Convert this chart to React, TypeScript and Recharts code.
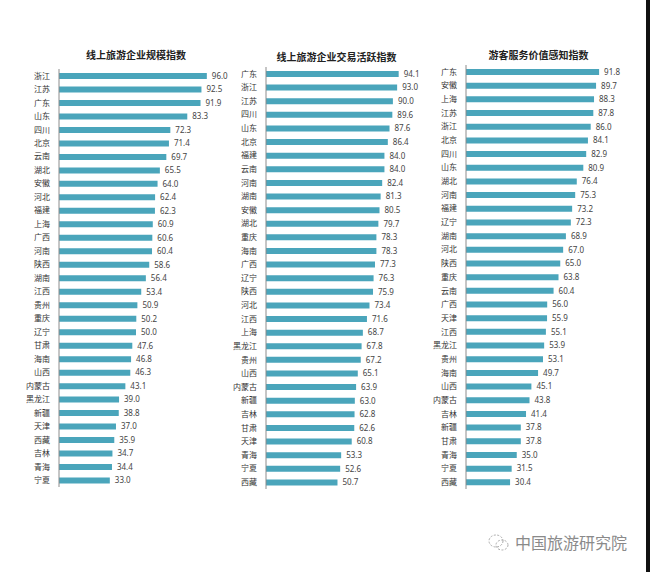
import React from "react";
import { Bar, BarChart, LabelList, XAxis, YAxis } from "recharts";

// 线上旅游企业规模指数
const scaleRegions = [
  "浙江", "江苏", "广东", "山东", "四川", "北京", "云南", "湖北", "安徽", "河北",
  "福建", "上海", "广西", "河南", "陕西", "湖南", "江西", "贵州", "重庆", "辽宁",
  "甘肃", "海南", "山西", "内蒙古", "黑龙江", "新疆", "天津", "西藏", "吉林", "青海", "宁夏",
];
const scaleValues = [
  96.0, 92.5, 91.9, 83.3, 72.3, 71.4, 69.7, 65.5, 64.0, 62.4,
  62.3, 60.9, 60.6, 60.4, 58.6, 56.4, 53.4, 50.9, 50.2, 50.0,
  47.6, 46.8, 46.3, 43.1, 39.0, 38.8, 37.0, 35.9, 34.7, 34.4, 33.0,
];

// 线上旅游企业交易活跃指数
const tradeRegions = [
  "广东", "浙江", "江苏", "四川", "山东", "北京", "福建", "云南", "河南", "湖南",
  "安徽", "湖北", "重庆", "海南", "广西", "辽宁", "陕西", "河北", "江西", "上海",
  "黑龙江", "贵州", "山西", "内蒙古", "新疆", "吉林", "甘肃", "天津", "青海", "宁夏", "西藏",
];
const tradeValues = [
  94.1, 93.0, 90.0, 89.6, 87.6, 86.4, 84.0, 84.0, 82.4, 81.3,
  80.5, 79.7, 78.3, 78.3, 77.3, 76.3, 75.9, 73.4, 71.6, 68.7,
  67.8, 67.2, 65.1, 63.9, 63.0, 62.8, 62.6, 60.8, 53.3, 52.6, 50.7,
];

// 游客服务价值感知指数
const serviceRegions = [
  "广东", "安徽", "上海", "江苏", "浙江", "北京", "四川", "山东", "湖北", "河南",
  "福建", "辽宁", "湖南", "河北", "陕西", "重庆", "云南", "广西", "天津", "江西",
  "黑龙江", "贵州", "海南", "山西", "内蒙古", "吉林", "新疆", "甘肃", "青海", "宁夏", "西藏",
];
const serviceValues = [
  91.8, 89.7, 88.3, 87.8, 86.0, 84.1, 82.9, 80.9, 76.4, 75.3,
  73.2, 72.3, 68.9, 67.0, 65.0, 63.8, 60.4, 56.0, 55.9, 55.1,
  53.9, 53.1, 49.7, 45.1, 43.8, 41.4, 37.8, 37.8, 35.0, 31.5, 30.4,
];

const BAR_COLOR = "#4aa5bb";
const CJK = '"Noto Sans CJK SC", "Noto Sans", sans-serif';

interface PanelProps {
  title: string;
  names: string[];
  values: number[];
  left: number;
  axisWidth: number;
  plotWidth: number;
  plotTop: number;
  plotBottom: number;
  titleTop: number;
}

function Panel({ title, names, values, left, axisWidth, plotWidth, plotTop, plotBottom, titleTop }: PanelProps) {
  const data = names.map((name, i) => ({ name, value: values[i] }));
  const width = axisWidth + plotWidth + 40;
  return (
    <>
      <div
        style={{
          position: "absolute",
          left: left + axisWidth + plotWidth / 2 - 100,
          top: titleTop,
          width: 200,
          textAlign: "center",
          fontFamily: CJK,
          fontSize: 10,
          fontWeight: 700,
          color: "#222",
          lineHeight: "12px",
        }}
      >
        {title}
      </div>
      <div style={{ position: "absolute", left, top: 0 }}>
        <BarChart
          width={width}
          height={572}
          data={data}
          layout="vertical"
          margin={{ top: plotTop, right: 40, left: 0, bottom: 572 - plotBottom }}
          barSize={6}
        >
          <XAxis type="number" domain={[0, 100]} hide allowDataOverflow />
          <YAxis
            type="category"
            dataKey="name"
            width={axisWidth}
            tickLine={false}
            axisLine={{ stroke: "#8c8c8c" }}
            tick={{ fontSize: 8, fill: "#333", fontFamily: CJK }}
            tickMargin={3}
            interval={0}
          />
          <Bar dataKey="value" fill={BAR_COLOR} isAnimationActive={false}>
            <LabelList
              dataKey="value"
              position="right"
              offset={5}
              formatter={(v: any) => Number(v).toFixed(1)}
              style={{ fontSize: 8, fill: "#444", fontFamily: '"Noto Sans", sans-serif' }}
            />
          </Bar>
        </BarChart>
      </div>
    </>
  );
}

export default function App() {
  return (
    <div
      style={{
        position: "absolute",
        left: 0,
        top: 0,
        width: 650,
        height: 572,
        background: "#fff",
        overflow: "hidden",
      }}
    >
      <Panel
        title="线上旅游企业规模指数"
        names={scaleRegions}
        values={scaleValues}
        left={0}
        axisWidth={59}
        plotWidth={154}
        plotTop={69}
        plotBottom={487}
        titleTop={49}
      />
      <Panel
        title="线上旅游企业交易活跃指数"
        names={tradeRegions}
        values={tradeValues}
        left={200}
        axisWidth={66}
        plotWidth={141}
        plotTop={67}
        plotBottom={489}
        titleTop={51}
      />
      <Panel
        title="游客服务价值感知指数"
        names={serviceRegions}
        values={serviceValues}
        left={400}
        axisWidth={66}
        plotWidth={145}
        plotTop={65}
        plotBottom={489}
        titleTop={49}
      />
      <svg style={{ position: "absolute", left: 487, top: 533 }} width={24} height={20}>
        <ellipse cx={9} cy={8} rx={7} ry={6} fill="none" stroke="#aaa" strokeWidth={1} strokeDasharray="2 1.5" />
        <ellipse cx={15} cy={12} rx={6} ry={5} fill="none" stroke="#aaa" strokeWidth={1} strokeDasharray="2 1.5" />
      </svg>
      <div
        style={{
          position: "absolute",
          left: 515,
          top: 533,
          fontFamily: CJK,
          fontSize: 16,
          color: "#8a8a8a",
          lineHeight: "19px",
          whiteSpace: "nowrap",
        }}
      >
        中国旅游研究院
      </div>
      <div style={{ position: "absolute", left: 646, top: 0, width: 4, height: 572, background: "#111" }} />
    </div>
  );
}
